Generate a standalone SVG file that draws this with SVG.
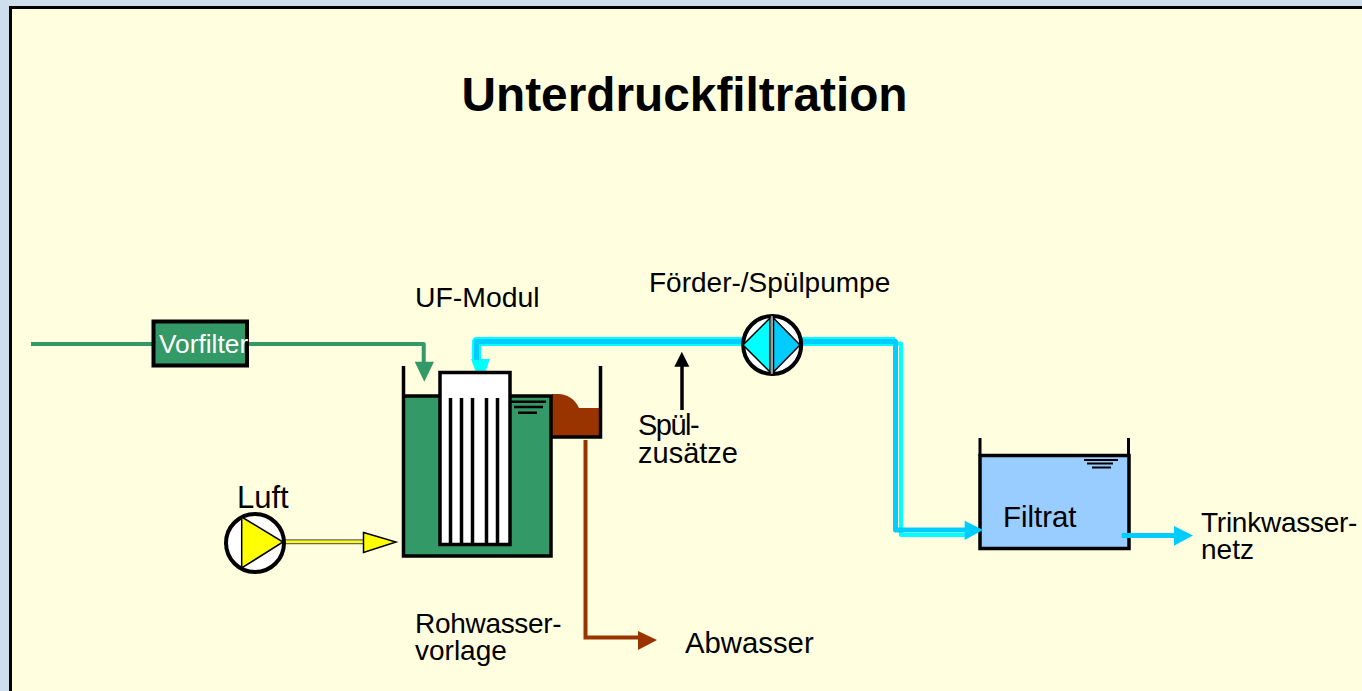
<svg xmlns="http://www.w3.org/2000/svg" width="1362" height="691" viewBox="0 0 1362 691">
<style>
text{font-family:"Liberation Sans",Arial,sans-serif;fill:#000;font-size:28px}
.k{fill:none;stroke:#000;stroke-width:3.500}
.g{fill:none;stroke:#339966;stroke-width:4;stroke-linejoin:round}
.c{fill:none;stroke:#00ffff;stroke-linejoin:round}
.b{fill:none;stroke:#00ccff;stroke-linejoin:round}
</style>
<rect width="1362" height="691" fill="#cfdeec"/>
<rect x="11" y="8" width="1351" height="683" fill="#ffffe0"/>
<path d="M10.500 691V7.500H1362" fill="none" stroke="#000" stroke-width="3"/>
<text x="684.500" y="111" text-anchor="middle" font-weight="bold" style="font-size:47.800px">Unterdruckfiltration</text>

<g id="filtrat">
<rect x="980" y="455.500" width="149" height="93" fill="#99ccff" stroke="#000" stroke-width="3.500"/>
<path d="M980 456V438M1128.500 456V438" stroke="#000" stroke-width="3" fill="none"/>
<path d="M1084 460H1118M1087 463.500H1113M1092 467.500H1111" stroke="#000" stroke-width="2" fill="none"/>
<text x="1003" y="526.500" style="font-size:29.400px">Filtrat</text>
</g>

<g id="connectors">
<path class="g" d="M31 344H423.700V362"/>
<path d="M414.700 361.700H434L424.300 381.700Z" fill="#339966"/>
<path d="M585.500 440V637.500H638" fill="none" stroke="#993300" stroke-width="4"/>
<path d="M638 631L657 640L638 650Z" fill="#993300"/>
<path d="M471 359H490L480.500 385Z" fill="#00ffff"/>
<path class="c" stroke-width="9" d="M476.500 360V341.500H742"/>
<path class="b" stroke-width="5" d="M476.500 360V341.500H742"/>
<path class="c" stroke-width="9" d="M802 341.500H895"/>
<path class="c" stroke-width="4" d="M895 343.500H901V535H966"/>
<path class="b" stroke-width="5" d="M802 341.500H895.500V530H966"/>
<path d="M964.700 520.700L983 530L964.700 540Z" fill="#00ccff"/>
<path d="M1121.700 535.500H1175" stroke="#00ccff" stroke-width="5" fill="none"/>
<path d="M1174 526L1193 535.500L1174 545.700Z" fill="#00ccff"/>
<path d="M682 410V365" stroke="#000" stroke-width="3.500" fill="none"/>
<path d="M674.300 366.700L681.800 351.700L689.300 366.700Z" fill="#000"/>
<path d="M284 541.800H364" stroke="#666" stroke-width="5" fill="none"/>
<path d="M284 541.800H364" stroke="#ffff00" stroke-width="2.500" fill="none"/>
<path d="M363.500 532.500L396 542L363.500 552.500Z" fill="#ffff00" stroke="#000" stroke-width="1.500"/>
</g>

<g id="vorfilter">
<rect x="153.500" y="321.500" width="93.500" height="44" fill="#339966" stroke="#000" stroke-width="4"/>
<text x="159" y="352.700" style="fill:#fff;font-size:26.300px">Vorfilter</text>
</g>

<g id="rohwasservorlage">
<path d="M552 394H558C567 394 575 399 579 408H601V437H552Z" fill="#993300"/>
<path class="k" d="M552 437H600.500V366" stroke-width="3"/>
<rect x="403.500" y="396" width="147" height="160" fill="#339966"/>
<path d="M403.500 366V556H551V396H403.500" fill="none" stroke="#000" stroke-width="3.500"/>
<path d="M511 401.700H546M514 407H543M518 412.700H537" stroke="#000" stroke-width="2.500" fill="none"/>
</g>

<g id="uf-modul">
<rect x="440" y="372.500" width="70" height="172" fill="#fff" stroke="#000" stroke-width="3.500"/>
<path d="M450.500 398V544M461.500 398V544M472.500 398V544M486.500 398V544M497.500 398V544" stroke="#000" stroke-width="3.500" fill="none"/>
</g>

<g id="pumpe">
<circle cx="772.200" cy="345" r="29" fill="#fff" stroke="#000" stroke-width="4"/>
<path d="M770 318V372L743 345Z" fill="#00ffff" stroke="#000" stroke-width="1.500"/>
<path d="M773.500 318V372L800 345Z" fill="#00ccff" stroke="#000" stroke-width="1.500"/>
<path d="M771.800 316V374" stroke="#999" stroke-width="2" fill="none"/>
</g>

<g id="luftpumpe">
<circle cx="255" cy="543" r="29" fill="#fff" stroke="#000" stroke-width="4"/>
<path d="M241.700 517L283 542L241.700 568Z" fill="#ffff00" stroke="#000" stroke-width="1.500"/>
</g>

<g id="labels">
<text x="415" y="307" style="font-size:28.400px">UF-Modul</text>
<text x="649" y="292">Förder-/Spülpumpe</text>
<text x="638" y="435" style="font-size:29px;letter-spacing:-1.500px">Spül-</text>
<text x="638" y="463" style="font-size:29px">zusätze</text>
<text x="237" y="508" style="font-size:31px">Luft</text>
<text x="415" y="633" style="letter-spacing:-.3px">Rohwasser-</text>
<text x="415" y="660">vorlage</text>
<text x="685" y="653" style="font-size:29.300px">Abwasser</text>
<text x="1201" y="532" style="letter-spacing:-.25px">Trinkwasser-</text>
<text x="1201" y="559">netz</text>
</g>
</svg>
